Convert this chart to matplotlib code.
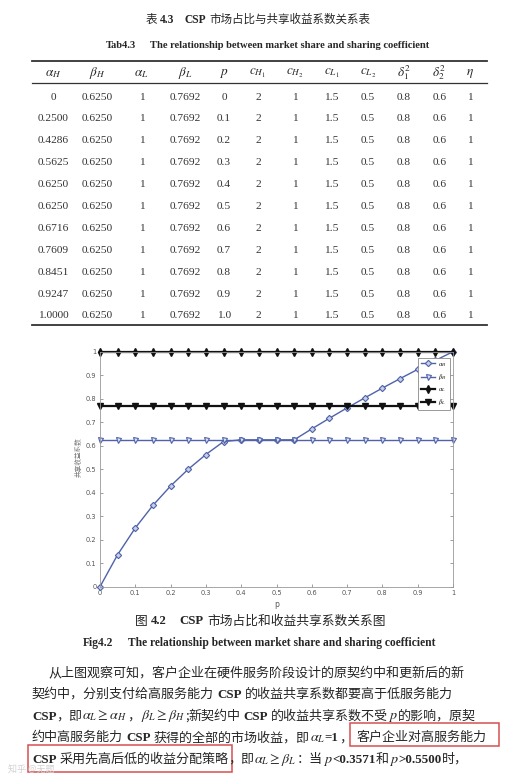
import matplotlib
matplotlib.use("Agg")
import matplotlib.pyplot as plt
from matplotlib.patches import Rectangle

# ---- table data (Tab4.3) ----
col_headers = [r"$\alpha_H$", r"$\beta_H$", r"$\alpha_L$", r"$\beta_L$", r"$p$",
               r"$c_{H_1}$", r"$c_{H_2}$", r"$c_{L_1}$", r"$c_{L_2}$",
               r"$\delta_1^2$", r"$\delta_2^2$", r"$\eta$"]
tab_alpha_H = ["0", "0.2500", "0.4286", "0.5625", "0.6250", "0.6250",
               "0.6716", "0.7609", "0.8451", "0.9247", "1.0000"]
tab_beta_H = ["0.6250"] * 11
tab_alpha_L = ["1"] * 11
tab_beta_L = ["0.7692"] * 11
tab_p = ["0", "0.1", "0.2", "0.3", "0.4", "0.5", "0.6", "0.7", "0.8", "0.9", "1.0"]
tab_cH1 = ["2"] * 11
tab_cH2 = ["1"] * 11
tab_cL1 = ["1.5"] * 11
tab_cL2 = ["0.5"] * 11
tab_d1 = ["0.8"] * 11
tab_d2 = ["0.6"] * 11
tab_eta = ["1"] * 11

# ---- chart data (Fig4.2) ----
p_grid = [0, 0.05, 0.1, 0.15, 0.2, 0.25, 0.3, 0.35, 0.4, 0.45, 0.5,
          0.55, 0.6, 0.65, 0.7, 0.75, 0.8, 0.85, 0.9, 0.95, 1.0]
alpha_H_curve = [0, 0.1364, 0.25, 0.3462, 0.4286, 0.5, 0.5625, 0.6176, 0.625, 0.625, 0.625,
                 0.625, 0.6716, 0.7169, 0.7609, 0.8035, 0.8451, 0.8854, 0.9247, 0.9628, 1.0]
beta_H_curve = [0.625] * 21
alpha_L_curve = [1.0] * 21
beta_L_curve = [0.7692] * 21
x_ticks = [0, 0.1, 0.2, 0.3, 0.4, 0.5, 0.6, 0.7, 0.8, 0.9, 1]
x_tick_labels = ["0", "0.1", "0.2", "0.3", "0.4", "0.5", "0.6", "0.7", "0.8", "0.9", "1"]
y_ticks = [0, 0.1, 0.2, 0.3, 0.4, 0.5, 0.6, 0.7, 0.8, 0.9, 1]
y_tick_labels = ["0", "0.1", "0.2", "0.3", "0.4", "0.5", "0.6", "0.7", "0.8", "0.9", "1"]
legend_labels = [r"$\alpha_H$", r"$\beta_H$", r"$\alpha_L$", r"$\beta_L$"]

plt.rcParams["mathtext.fontset"] = "stix"
INK = "#262626"
BLUE = "#4f62aa"
CJK = ["Noto Sans CJK SC", "Liberation Serif"]

W, H = 507, 782
fig = plt.figure(figsize=(W / 100, H / 100), dpi=100)
page = fig.add_axes([0, 0, 1, 1])
page.set_xlim(0, W)
page.set_ylim(H, 0)
page.axis("off")
renderer = fig.canvas.get_renderer()


def runs(x, y, parts, align="left"):
    # parts: (text, style) ; style may be a number -> blank gap in px
    items = []
    for s, kw in parts:
        if isinstance(kw, (int, float)):
            items.append((None, kw))
            continue
        t = page.text(0, y, s, va="baseline", ha="left", color=INK, **kw)
        items.append((t, t.get_window_extent(renderer).width))
    total = sum(w for _, w in items)
    if align == "center":
        x = x - total / 2
    for t, w in items:
        if t is not None:
            t.set_x(x)
        x += w
    return x


cj = lambda s: dict(family=CJK, fontsize=s)
lb = lambda s: dict(family="Liberation Serif", weight="bold", fontsize=s)
mt = lambda s: dict(fontsize=s)

# ---- table ----
runs(258, 23, [("表", cj(8.3)), ("", 3), ("4.3", lb(8.3)), ("", 10), ("CSP", lb(8.3)), ("", 3),
               ("市场占比与共享收益系数关系表", cj(8.3))], align="center")
runs(268, 48, [("Tab4.3", lb(7.6)), ("", 14),
               ("The relationship between market share and sharing coefficient", lb(7.6))],
     align="center")

col_x = [53, 97.5, 141.7, 185.7, 224, 258, 295, 331.7, 368, 404, 439.3, 470]
page.plot([32, 487], [60.5, 60.5], color="#333", lw=1.3)
page.plot([32, 487], [82.7, 82.7], color="#333", lw=0.9)
page.plot([32, 487], [325, 325], color="#333", lw=1.3)
for cx, hd in zip(col_x, col_headers):
    page.text(cx, 73, hd, ha="center", va="center", fontsize=9.5, color=INK)
columns = [tab_alpha_H, tab_beta_H, tab_alpha_L, tab_beta_L, tab_p, tab_cH1, tab_cH2,
           tab_cL1, tab_cL2, tab_d1, tab_d2, tab_eta]
for cx, col in zip(col_x, columns):
    for i, v in enumerate(col):
        page.text(cx, 97 + i * 21.9, v, ha="center", va="center", fontsize=8.2,
                  family="Liberation Serif", color="#333")

# ---- chart ----
ax = fig.add_axes([100 / W, 1 - 586.7 / H, 353 / W, 235 / H])
ax.plot(p_grid, alpha_H_curve, color=BLUE, lw=1.0, marker="D", ms=3.2, mfc="#c9cfe8",
        mec=BLUE, mew=0.8, clip_on=False, label=legend_labels[0])
ax.plot(p_grid, beta_H_curve, color=BLUE, lw=1.0, marker="v", ms=3.6, mfc="#dfe3f2",
        mec=BLUE, mew=0.8, clip_on=False, label=legend_labels[1])
ax.plot(p_grid, alpha_L_curve, color="#111", lw=1.6, marker="d", ms=4, mfc="#111",
        mec="#111", clip_on=False, label=legend_labels[2])
ax.plot(p_grid, beta_L_curve, color="#111", lw=1.6, marker="v", ms=4, mfc="#111",
        mec="#111", clip_on=False, label=legend_labels[3])
ax.set_xlim(0, 1)
ax.set_ylim(0, 1)
ax.set_xticks(x_ticks, x_tick_labels)
ax.set_yticks(y_ticks, y_tick_labels)
ax.tick_params(direction="in", length=2.2, width=0.5, labelsize=4.8, colors="#777",
               labelcolor="#555", top=True, right=True, pad=2.5)
for sp in ax.spines.values():
    sp.set_color("#999")
    sp.set_linewidth(0.6)
ax.set_xlabel("p", fontsize=5.5, color="#555", labelpad=3)
ax.set_ylabel("共享收益系数", family=CJK, fontsize=4.8, color="#777")
ax.yaxis.set_label_coords(-17 / 353, (586.7 - 457) / 235)
leg = ax.legend(loc="upper right", bbox_to_anchor=(0.992, 0.975), fontsize=4.4,
                frameon=True, fancybox=False, edgecolor="#888", framealpha=1,
                borderpad=0.5, handlelength=2.4, labelspacing=0.6, borderaxespad=0,
                handletextpad=0.5)
leg.get_frame().set_linewidth(0.6)

# ---- captions ----
runs(260, 624.5, [("图", cj(9.2)), ("", 3.5), ("4.2", lb(9.2)), ("", 13), ("CSP", lb(9.2)), ("", 3.5),
                  ("市场占比和收益共享系数关系图", cj(9.2))], align="center")
runs(259, 646, [("Fig4.2", lb(8.3)), ("", 15),
                ("The relationship between market share and sharing coefficient", lb(8.3))],
     align="center")

# ---- paragraph ----
S = 9.4
M = 10.2
base = [676, 697.8, 719.5, 741.2, 763]
runs(48, base[0], [("从上图观察可知，客户企业在硬件服务阶段设计的原契约中和更新后的新", cj(S))])
runs(32, base[1], [("契约中，分别支付给高服务能力", cj(S)), ("", 3), ("CSP", lb(S)), ("", 3),
                   ("的收益共享系数都要高于低服务能力", cj(S))])
runs(32, base[2], [("CSP", lb(S)), ("，即", cj(S)), (r"$\alpha_L \geq \alpha_H$", mt(M)),
                   ("，", cj(S)), (r"$\beta_L \geq \beta_H$", mt(M)), (";", cj(S)),
                   ("新契约中", cj(S)), ("", 3), ("CSP", lb(S)), ("", 3),
                   ("的收益共享系数不受", cj(S)), (r"$p$", mt(M)), ("的影响，原契", cj(S))])
runs(32, base[3], [("约中高服务能力", cj(S)), ("", 3), ("CSP", lb(S)), ("", 3),
                   ("获得的全部的市场收益，即", cj(S)), (r"$\alpha_L$", mt(M)), ("=1", lb(S)),
                   ("，", cj(S)), ("", 5), ("客户企业对高服务能力", cj(S))])
runs(32, base[4], [("CSP", lb(S)), ("", 3), ("采用先高后低的收益分配策略", cj(S)), ("，即", cj(S)),
                   (r"$\alpha_L \geq \beta_L$", mt(M)), ("：当", cj(S)), (r"$p$", mt(M)),
                   ("<0.3571", lb(S)), ("和", cj(S)), (r"$p$", mt(M)), (">0.5500", lb(S)),
                   ("时，", cj(S))])

# red highlight boxes
page.add_patch(Rectangle((350, 723), 149, 23, fill=False, ec="#d65050", lw=1.1))
page.add_patch(Rectangle((28, 745), 204, 27, fill=False, ec="#d65050", lw=1.1))

# faint watermark
page.text(8, 770, "知乎 @无题", family=CJK, fontsize=6.5, color="#d2d2d2", va="center")

fig.savefig("out.png", dpi=100)
